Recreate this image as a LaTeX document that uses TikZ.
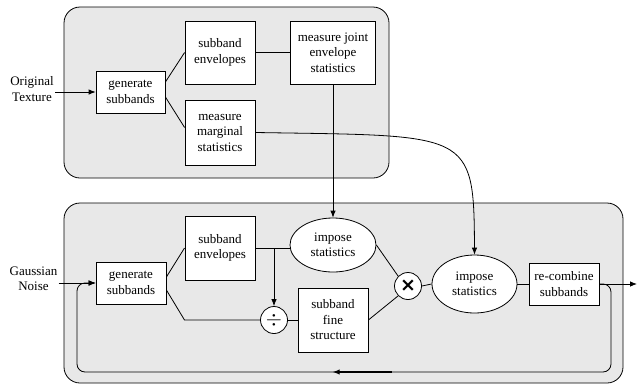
\documentclass[tikz,border=0pt]{standalone}
\usepackage{fontspec}
\setmainfont{Liberation Serif}
\newfontfamily\symfont{DejaVu Sans}
\usetikzlibrary{arrows.meta}
\usetikzlibrary{shapes.geometric,decorations.markings}

\begin{document}
\begin{tikzpicture}[x=1pt,y=-1pt,
    font=\fontsize{13}{15.5}\selectfont,
    box/.style={draw,fill=white,align=center,inner sep=0pt,line width=0.8pt},
    oval/.style={draw,fill=white,ellipse,align=center,inner sep=0pt,line width=0.8pt},
    op/.style={draw,fill=white,circle,minimum size=27pt,inner sep=0pt,line width=0.8pt},
    panel/.style={draw,fill=black!9,rounded corners=16pt,line width=0.8pt},
    every path/.append style={line width=0.8pt},
    >={Latex[length=7pt,width=5.5pt]}]
    \useasboundingbox (0,0) rectangle (637,386);

		\draw [panel] (64,7) rectangle (389,178); %analysis
		\draw [panel] (64,203) rectangle (623,383); %synthesis

		\node [box,minimum width=69pt,minimum height=42pt] (gen) at (130.5,92) {generate\\subbands};
		\node [box,minimum width=70pt,minimum height=63pt] (env) at (220,52.5) {subband\\envelopes};
		\node [box,minimum width=70pt,minimum height=65pt] (marg) at (220,132.5) {measure\\marginal\\statistics};
		\node [box,minimum width=85pt,minimum height=63pt] (joint) at (333,52.5) {measure joint\\envelope\\statistics};
		\node [align=center,inner sep=1pt] (orig) at (32,89) {Original\\Texture};

		\node [box,minimum width=70pt,minimum height=42pt] (gen2) at (131,283) {generate\\subbands};
		\node [box,minimum width=70pt,minimum height=64pt,line width=1pt] (env2) at (220,248) {subband\\envelopes};
		\node [oval,minimum width=86pt,minimum height=54pt] (imp1) at (333,245) {impose\\statistics};
		\node [box,minimum width=70pt,minimum height=64pt] (fine) at (333,320) {subband\\fine\\structure};
		\node [op] (div) at (274,320) {\fontsize{20}{20}\selectfont$\div$};
		\node [op] (mul) at (408,286) {\symfont\bfseries\fontsize{19}{19}\selectfont ×};
		\node [oval,minimum width=85pt,minimum height=58pt] (imp2) at (474.5,284) {impose\\statistics};
		\node [box,minimum width=70pt,minimum height=42pt] (rec) at (564,284) {re-combine\\subbands};
		\node [align=center,inner sep=1pt] (noise) at (33.5,279) {Gaussian\\Noise};

		\coordinate (out) at (637,284);
		\coordinate (lr) at (611,372);
		\coordinate (ll) at (77,372);

		\draw [->] (orig.east |- gen.west) -- (gen.west);
		\draw ([yshift=10pt]gen.east) -- (env.west);
		\draw ([yshift=-5pt]gen.east) -- ([yshift=5pt]marg.west);
		\draw (env.east) -- (joint.west);
		\draw [->] (joint.south) -- (imp1.north);
		\draw [->] (marg.east) .. controls (470,136) and (474,130) .. (imp2.north); %marginal

		\draw [->] (noise.east |- gen2.west) -- (gen2.west);
		\draw ([yshift=6pt]gen2.east) -- (env2.west);
		\draw ([yshift=-7pt]gen2.east) -- (env2.west |- div.west) -- (div.west);
		\draw (env2.east) -- (env2.east -| imp1.west);
		\draw [->] (div.north |- env2.east) -- (div.north);
		\draw (div.east) -- (fine.west);
		\draw (imp1.east) -- (mul.north west);
		\draw (fine.east) -- (mul.south west);
		\draw (mul.east) -- (imp2.west);
		\draw (imp2.east) -- (rec.west);
		\draw [->] (rec.east) -- (out);
		\draw [->,rounded corners=8pt,
		  postaction={decorate,decoration={markings,mark=at position 0.51 with
		  {\draw [line width=1.1pt,-{Latex[length=7pt,width=5.5pt]}] (-59pt,0pt) -- (0pt,0pt);}}}]
		  (rec.east) -| (lr) -- (ll) |- (gen2.west); %feedback
\end{tikzpicture}
\end{document}
